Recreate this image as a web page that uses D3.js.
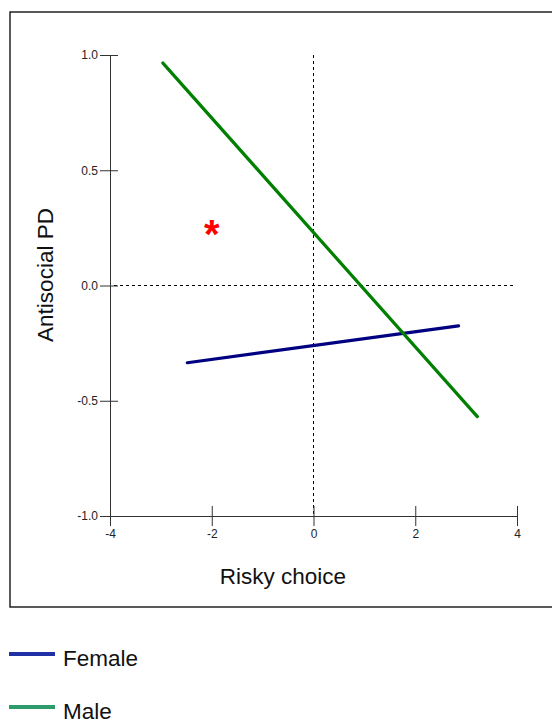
<!DOCTYPE html>
<html>
<head>
<meta charset="utf-8">
<script src="https://cdn.jsdelivr.net/npm/d3@7"></script>
<style>
  body { margin: 0; background: #fff; }
  text { font-family: Arial, "Liberation Sans", sans-serif; }
</style>
</head>
<body>
<svg id="chart" width="552" height="724"></svg>
<script>
// chart data
const series = ['Female', 'Male'];
const seriesColor = ['#000080', '#008000'];
const legendColor = ['#1f31a5', '#2e9b6a'];
const femaleX = [-2.48, 2.85];
const femaleY = [-0.335, -0.175];
const maleX = [-2.96, 3.22];
const maleY = [0.965, -0.569];
const xTicks = [-4, -2, 0, 2, 4];
const yTicks = [-1.0, -0.5, 0.0, 0.5, 1.0];
const starPoint = [-2, 0.255];

const svg = d3.select('#chart');

// frame round the plot
svg.append('rect').attr('x', 10).attr('y', 12).attr('width', 560).attr('height', 595)
  .attr('fill', '#fff').attr('stroke', '#000').attr('stroke-width', 1.3);

const x = d3.scaleLinear().domain([-4, 4]).range([110, 517]);
const y = d3.scaleLinear().domain([-1, 1]).range([516, 55]);

// reference lines at zero
svg.append('line').attr('x1', x(0)).attr('x2', x(0)).attr('y1', y(1)).attr('y2', y(-1))
  .attr('stroke', '#000').attr('stroke-dasharray', '3,3');
svg.append('line').attr('x1', x(-4) + 4).attr('x2', x(4) - 3).attr('y1', y(0)).attr('y2', y(0))
  .attr('stroke', '#000').attr('stroke-dasharray', '3,3');

// axes
const yAxis = d3.axisLeft(y).tickValues(yTicks).tickSizeInner(10).tickSizeOuter(0);
const gy = svg.append('g').attr('transform', `translate(${x(-4)},0)`).call(yAxis);
gy.select('.domain').attr('stroke', '#333');
gy.selectAll('.tick line').attr('x2', 8).attr('x1', -10).attr('stroke', '#333');
gy.selectAll('.tick text').attr('x', -12).attr('font-size', 12).attr('fill', '#222')
  .attr('font-family', 'Arial, "Liberation Sans", sans-serif').text(d => d3.format('.1f')(d).replace('−', '-'));

const xAxis = d3.axisBottom(x).tickValues(xTicks).tickSizeInner(10).tickSizeOuter(0);
const gx = svg.append('g').attr('transform', `translate(0,${y(-1)})`).call(xAxis);
gx.select('.domain').attr('stroke', '#333');
gx.selectAll('.tick line').attr('y1', -10).attr('y2', 10).attr('stroke', '#333');
gx.selectAll('.tick text').attr('y', 13).attr('font-size', 12).attr('fill', '#222')
  .attr('font-family', 'Arial, "Liberation Sans", sans-serif').text(d => String(d));

// regression lines
const line = d3.line().x(d => x(d[0])).y(d => y(d[1]));
const lines = [d3.zip(femaleX, femaleY), d3.zip(maleX, maleY)];
svg.selectAll('path.fit').data(lines).enter().append('path')
  .attr('class', 'fit')
  .attr('d', line)
  .attr('fill', 'none')
  .attr('stroke', (d, i) => seriesColor[i])
  .attr('stroke-width', 3.2)
  .attr('stroke-linecap', 'round');

// significance mark
svg.append('text').attr('x', x(starPoint[0])).attr('y', y(starPoint[1]) + 21)
  .attr('text-anchor', 'middle').attr('font-size', 40).attr('font-weight', 'bold')
  .attr('fill', '#ff0000').text('*');

// axis titles
svg.append('text').attr('x', 283).attr('y', 584).attr('text-anchor', 'middle')
  .attr('font-size', 22.5).attr('fill', '#111').text('Risky choice');
svg.append('text').attr('transform', 'translate(53,275) rotate(-90)').attr('text-anchor', 'middle')
  .attr('font-size', 22.5).attr('font-weight', 500).attr('fill', '#111').text('Antisocial PD');

// legend
const leg = svg.selectAll('g.leg').data(series).enter().append('g').attr('class', 'leg')
  .attr('transform', (d, i) => `translate(0,${654 + i * 53})`);
leg.append('line').attr('x1', 9).attr('x2', 55).attr('y1', 0).attr('y2', 0)
  .attr('stroke', (d, i) => legendColor[i]).attr('stroke-width', 4.2);
leg.append('text').attr('x', 63).attr('y', 12).attr('font-size', 22.5).attr('fill', '#111').text(d => d);
</script>
</body>
</html>
